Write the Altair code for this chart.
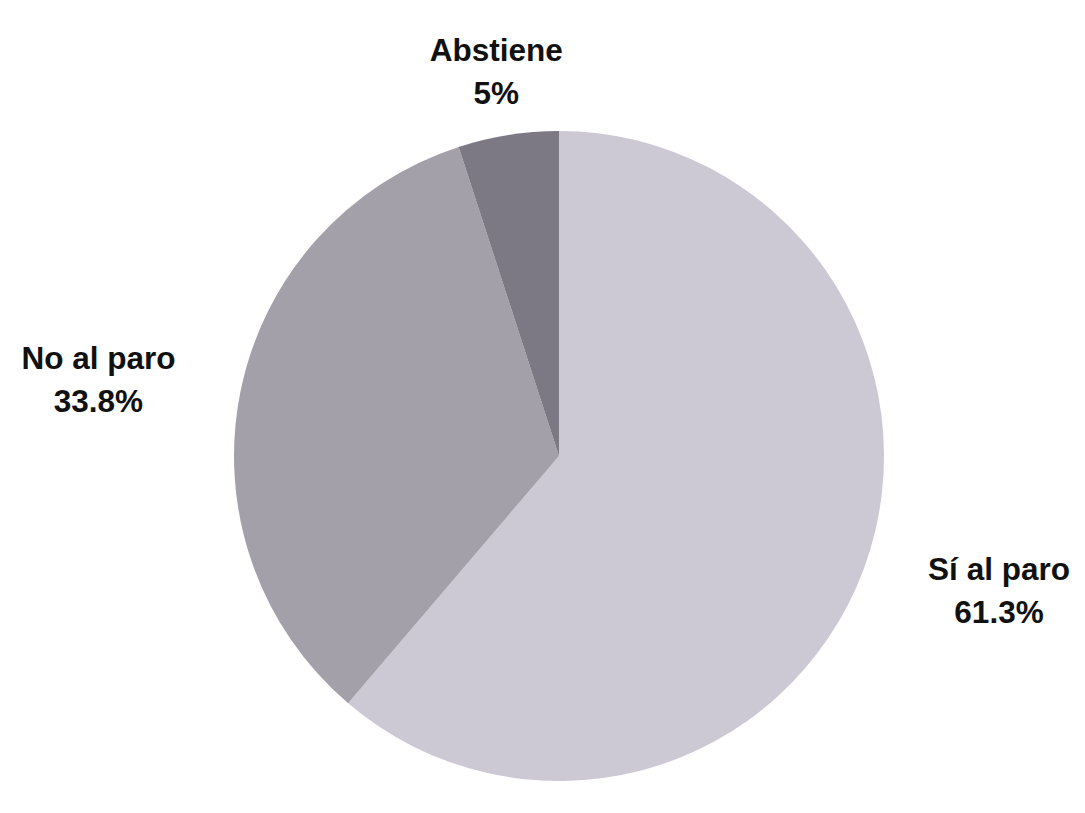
import altair as alt
import pandas as pd

categories = ["Sí al paro", "No al paro", "Abstiene"]
values = [61.3, 33.8, 5.0]
colors = ["#CCC9D5", "#A3A0AA", "#7C7985"]

df = pd.DataFrame({"cat": categories, "value": values, "idx": list(range(len(categories)))})

CX, CY, R, RL, OFF = 551, 448, 325, 389, 77

base = alt.Chart(df)

arcs = base.mark_arc(radius=R, stroke=None).encode(
    theta=alt.Theta("value:Q", stack=True),
    order=alt.Order("idx:O"),
    color=alt.Color("cat:N", scale=alt.Scale(domain=categories, range=colors), legend=None),
    x=alt.value(CX),
    y=alt.value(CY),
)

labels = (
    base.transform_joinaggregate(total="sum(value)")
    .transform_window(cum="sum(value)", sort=[alt.SortField("idx")], frame=[None, 0])
    .transform_calculate(
        mid="(datum.cum - datum.value / 2) / datum.total * 2 * PI",
    )
    .transform_calculate(
        lx=f"{CX} + {RL} * sin(datum.mid) + (sin(datum.mid) > 0.3 ? {OFF} : (sin(datum.mid) < -0.3 ? -{OFF} : 0))",
        ly=f"{CY} - {RL} * cos(datum.mid)",
        txt="datum.cat + '\\n' + format(datum.value, '.1~f') + '%'",
    )
    .mark_text(
        font="Liberation Sans",
        fontSize=31.5,
        fontWeight="bold",
        color="#111111",
        align="center",
        baseline="middle",
        lineBreak="\n",
        lineHeight=43,
        dy=-20,
        dx=-2,
    )
    .encode(
        x=alt.X("lx:Q", scale=None, axis=None),
        y=alt.Y("ly:Q", scale=None, axis=None),
        text="txt:N",
    )
)

chart = (
    alt.layer(arcs, labels)
    .properties(width=1069, height=797, padding=0, background="white")
    .configure_view(stroke=None)
)

chart.save("out.html", embed_options={"renderer": "svg", "actions": False})
